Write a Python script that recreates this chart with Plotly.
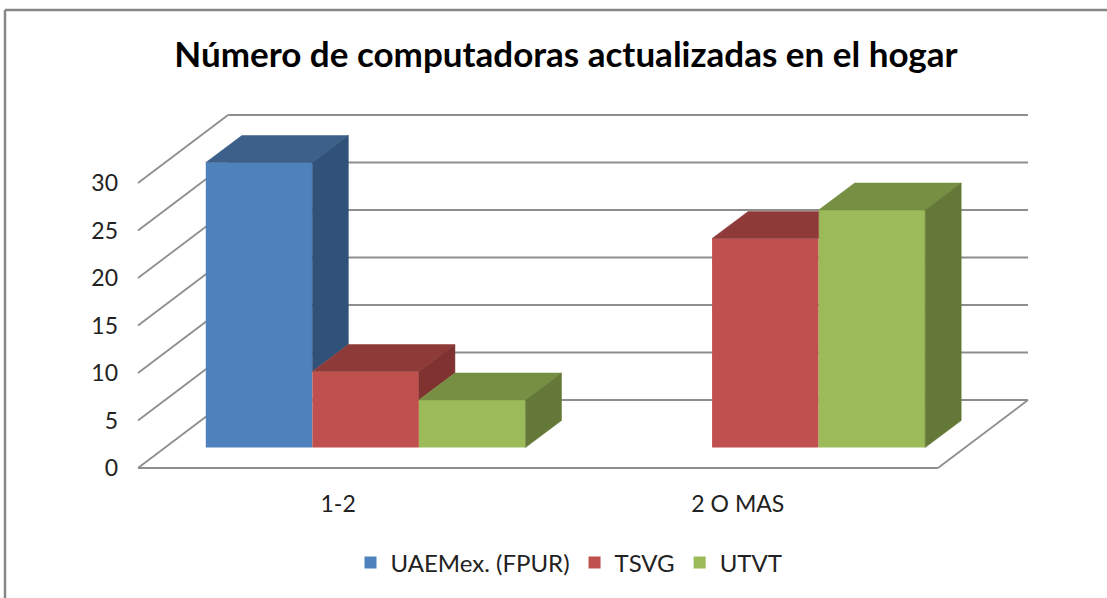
import plotly.graph_objects as go

# Data
categories = ["1-2", "2 O MAS"]
series_names = ["UAEMex. (FPUR)", "TSVG", "UTVT"]
uaemex = [30, 0]
tsvg = [8, 22]
utvt = [5, 25]
y_ticks = [0, 5, 10, 15, 20, 25, 30]
title_text = "Número de computadoras actualizadas en el hogar"

front_colors = ["#4F81BD", "#C0504D", "#9BBB59"]
top_colors = ["#3C6089", "#8E3A38", "#778F42"]
side_colors = ["#315278", "#7F3230", "#647837"]

series = [uaemex, tsvg, utvt]
cat_pos = list(range(len(categories)))

# oblique projection, expressed in axis units
PX_X = 399.5   # pixels per category
PX_Y = 9.5     # pixels per value unit
wall_dx = 90 / PX_X
wall_dy = 68 / PX_Y
bar_w = 106.5 / PX_X
bar_dx = 36 / PX_X
bar_dy = 27 / PX_Y
floor_shift_x = 27.5 / PX_X
floor_shift_y = 20.5 / PX_Y

x_left = -200 / PX_X
x_right = x_left + 799.5 / PX_X

fig = go.Figure()

# Front faces
for i, (name, vals) in enumerate(zip(series_names, series)):
    fig.add_trace(go.Bar(
        name=name,
        x=[c + floor_shift_x + (i - 1) * bar_w for c in cat_pos],
        y=vals,
        base=[floor_shift_y] * len(vals),
        width=bar_w,
        marker=dict(color=front_colors[i], line=dict(width=0)),
        hovertemplate=name + ": %{y}<extra></extra>",
    ))

def poly(px, py, color):
    fig.add_trace(go.Scatter(
        x=px + px[:1], y=py + py[:1], mode="lines", fill="toself",
        fillcolor=color, line=dict(color=color, width=0.5),
        showlegend=False, hoverinfo="skip",
    ))

# Top and side faces: hidden parts are left out using the neighbour's height
for i, vals in enumerate(series):
    for c, v in zip(cat_pos, vals):
        if v <= 0:
            continue
        nxt = series[i + 1][c] if i + 1 < len(series) else 0
        x0 = c + floor_shift_x + (i - 1.5) * bar_w
        x1 = x0 + bar_w
        t = floor_shift_y + v
        if nxt > v:
            poly([x0, x0 + bar_dx, x1, x1], [t, t + bar_dy, t + bar_dy, t], top_colors[i])
        else:
            poly([x0, x0 + bar_dx, x1 + bar_dx, x1], [t, t + bar_dy, t + bar_dy, t], top_colors[i])
            low = floor_shift_y + nxt
            poly([x1, x1 + bar_dx, x1 + bar_dx, x1],
                 [t, t + bar_dy, low + bar_dy, low], side_colors[i])

# Walls and floor
grid = dict(color="#8E8E8E", width=1.8)
shapes = []
for v in y_ticks:
    shapes.append(dict(type="line", layer="below", xref="x", yref="y", line=grid,
                       x0=x_left, y0=v, x1=x_left + wall_dx, y1=v + wall_dy))
    shapes.append(dict(type="line", layer="below", xref="x", yref="y", line=grid,
                       x0=x_left + wall_dx, y0=v + wall_dy, x1=x_right + wall_dx, y1=v + wall_dy))
shapes.append(dict(type="line", layer="below", xref="x", yref="y", line=grid,
                   x0=x_left, y0=0, x1=x_right, y1=0))
shapes.append(dict(type="line", layer="below", xref="x", yref="y", line=grid,
                   x0=x_right, y0=0, x1=x_right + wall_dx, y1=wall_dy))

pad = 3
W, H = 1107, 598
l, r, t_, b = 138 - pad, W - 1028 - pad, 115 - pad, H - 468 - pad
pw = W - l - r
ph = H - t_ - b

# Chart frame (only top and left edges are inside the crop)
frame = dict(color="#868686", width=2.5)
shapes.append(dict(type="line", xref="paper", yref="paper", line=frame, layer="below",
                   x0=-(l - 5) / pw, x1=(W - l) / pw, y0=(H - b - 10) / ph, y1=(H - b - 10) / ph))
shapes.append(dict(type="line", xref="paper", yref="paper", line=frame, layer="below",
                   x0=-(l - 5) / pw, x1=-(l - 5) / pw,
                   y0=-b / ph, y1=(H - b - 10) / ph))

FONT = "Lato"

fig.update_layout(
    width=W, height=H,
    margin=dict(l=l, r=r, t=t_, b=b, pad=0, autoexpand=False),
    paper_bgcolor="white", plot_bgcolor="rgba(0,0,0,0)",
    barmode="overlay",
    shapes=shapes,
    font=dict(family=FONT, color="#222222", size=22),
    title=dict(text="<b>" + title_text + "</b>",
               font=dict(family=FONT, size=35, color="#000000"),
               x=566 / W, xanchor="center", y=1 - 55 / H, yanchor="middle"),
    xaxis=dict(range=[x_left - pad / PX_X, x_right + wall_dx + pad / PX_X],
               tickmode="array", tickvals=cat_pos, ticktext=categories,
               showgrid=False, zeroline=False, showline=False, ticks="", automargin=False,
               ticklabelstandoff=17, tickfont=dict(size=23)),
    yaxis=dict(range=[-pad / PX_Y, wall_dy + 30 + pad / PX_Y],
               tickmode="array", tickvals=y_ticks, ticktext=[str(v) for v in y_ticks],
               showgrid=False, zeroline=False, showline=False, ticks="", automargin=False,
               ticklabelstandoff=16, tickfont=dict(size=23)),
    legend=dict(orientation="h", x=569 / W, xanchor="center", xref="container",
                y=1 - 563 / H, yref="container", yanchor="middle", traceorder="normal",
                font=dict(size=24), itemclick=False, itemdoubleclick=False),
    showlegend=True,
)

fig.write_html("out.html", config={"displayModeBar": False},
               post_script="document.body.style.margin='0';")
